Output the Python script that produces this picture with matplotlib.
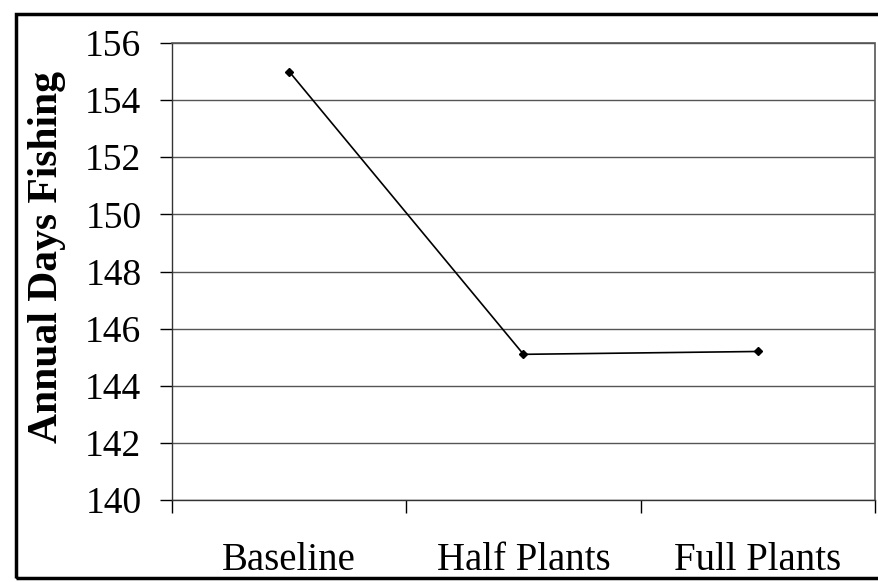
import matplotlib.pyplot as plt
from matplotlib.patches import Rectangle

# Data
scenarios = ["Baseline", "Half Plants", "Full Plants"]
days_fishing = [155.0, 145.1, 145.2]
y_ticks = [140, 142, 144, 146, 148, 150, 152, 154, 156]

plt.rcParams["font.family"] = ["Liberation Serif", "DejaVu Serif"]

fig = plt.figure(figsize=(8.79, 5.82), dpi=100)
ax = fig.add_axes([172 / 879, 82 / 582, 703 / 879, 457 / 582])

x_pos = [i + 0.5 for i in range(len(scenarios))]
ax.plot(x_pos, days_fishing, color="black", linewidth=1.2,
        marker="D", markersize=4.5, zorder=3)

ax.set_xlim(0, 3)
ax.set_ylim(140, 156)
ax.set_yticks(y_ticks)
ax.set_xticks([0, 1, 2, 3])
ax.set_xticklabels([])
ax.set_xticks(x_pos, minor=True)
ax.set_xticklabels(scenarios, minor=True, fontsize=28)
ax.tick_params(axis="x", which="minor", length=0, pad=30)
ax.tick_params(axis="x", which="major", direction="out", length=9,
               width=1, color="black")
ax.tick_params(axis="y", direction="out", length=9, width=1,
               labelsize=27, pad=13, color="black")

# Gridlines
ax.yaxis.grid(True, color="#555555", linewidth=1)
ax.set_axisbelow(True)

for side in ["left", "bottom"]:
    ax.spines[side].set_color("#333333")
    ax.spines[side].set_linewidth(1)
for side in ["top", "right"]:
    ax.spines[side].set_color("#555555")
    ax.spines[side].set_linewidth(1.2)
    ax.spines[side].set_linestyle((0, (1, 1)))

fig.text(47 / 879, 1 - 257 / 582, "Annual Days Fishing", rotation=90,
         fontsize=30, fontweight="bold", ha="center", va="center")

# Outer frame
fig.patches.append(Rectangle((16 / 879, 4 / 582), 1.0, 1 - 18 / 582,
                             transform=fig.transFigure, fill=False,
                             edgecolor="black", linewidth=2.5))

fig.savefig("out.png", dpi=100)
